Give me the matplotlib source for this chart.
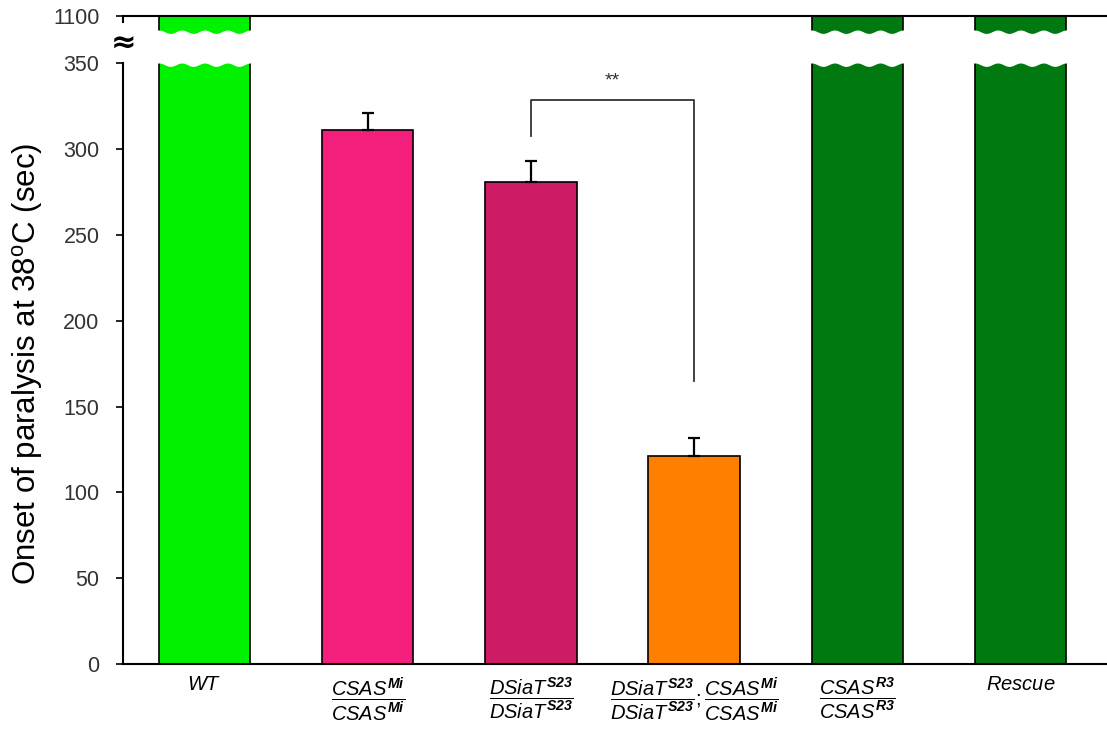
import numpy as np
import matplotlib
matplotlib.use("Agg")
import matplotlib.pyplot as plt
from matplotlib.scale import FuncScale
import matplotlib.transforms as mtransforms

plt.rcParams['font.family'] = ['Liberation Sans', 'DejaVu Sans']
plt.rcParams['mathtext.fontset'] = 'custom'
plt.rcParams['mathtext.rm'] = 'Liberation Sans'
plt.rcParams['mathtext.it'] = 'Liberation Sans:italic'
plt.rcParams['mathtext.bf'] = 'Liberation Sans:italic:bold'

# data
labels = [r'$WT$',
          r'$\dfrac{CSAS^{\mathbf{Mi}}}{CSAS^{\mathbf{Mi}}}$',
          r'$\dfrac{DSiaT^{\mathbf{S23}}}{DSiaT^{\mathbf{S23}}}$',
          r'$\dfrac{DSiaT^{\mathbf{S23}}}{DSiaT^{\mathbf{S23}}};\dfrac{CSAS^{\mathbf{Mi}}}{CSAS^{\mathbf{Mi}}}$',
          r'$\dfrac{CSAS^{\mathbf{R3}}}{CSAS^{\mathbf{R3}}}$',
          r'$Rescue$']
values = [1100, 311, 281, 121, 1100, 1100]
errors = [0, 10, 12, 11, 0, 0]
colors = ['#00f200', '#f41f7d', '#ce1b66', '#ff8000', '#007a10', '#007a10']
broken = [True, False, False, False, True, True]
yticks = [0, 50, 100, 150, 200, 250, 300, 350, 1100]

# bracket between group 2 and group 3
sig_left, sig_right = 2, 3
sig_y, sig_left_low, sig_right_low = 328.5, 308, 165
sig_text = '**'

# broken y scale: 0-350 linear, 350-1100 compressed
BREAK = 350
K = 0.0369


def fwd(y):
    y = np.asarray(y, dtype=float)
    return np.where(y <= BREAK, y, BREAK + (y - BREAK) * K)


def inv(y):
    y = np.asarray(y, dtype=float)
    return np.where(y <= BREAK, y, BREAK + (y - BREAK) / K)


fig = plt.figure(figsize=(11.07, 7.34), dpi=100)
ax = fig.add_axes([123 / 1107, 70 / 734, 984 / 1107, 648 / 734])
ax.set_yscale(FuncScale(ax, (fwd, inv)))

x = np.arange(len(values))
width = 0.56
ax.bar(x, values, width=width, color=colors, edgecolor='black', linewidth=1.2, zorder=2)

# one-sided error bars
for xi, v, e in zip(x, values, errors):
    if e > 0:
        ax.errorbar(xi, v, yerr=[[0], [e]], fmt='none', ecolor='black',
                    elinewidth=1.6, capsize=4, capthick=1.6, zorder=3)

# white break band with wavy edges on tall bars
trans = mtransforms.blended_transform_factory(ax.transData, ax.transAxes)
lo, hi = 601 / 648, 634 / 648
amp = 1.7 / 648
for xi, b in zip(x, broken):
    if not b:
        continue
    xs = np.linspace(xi - width / 2 - 0.01, xi + width / 2 + 0.01, 200)
    ph = (xs - (xi - width / 2)) / (width / 4) * 2 * np.pi
    ax.fill_between(xs, lo - amp + amp * np.cos(ph), hi - amp + amp * np.cos(ph),
                    color='white', transform=trans, zorder=4, linewidth=0)

ax.set_xlim(-0.5, 5.53)
ax.set_ylim(0, 1100)
ax.set_yticks(yticks)
ax.set_yticklabels([str(t) for t in yticks])
ax.yaxis.set_minor_locator(matplotlib.ticker.NullLocator())
ax.set_xticks(x)
ax.set_xticklabels(labels, fontsize=14.5)
ax.tick_params(axis='x', length=0, pad=8)
ax.tick_params(axis='y', direction='out', length=5, width=1.2, labelsize=15.5,
               labelcolor='#333333', pad=12)

for s in ['right', 'left']:
    ax.spines[s].set_visible(False)
for s in ['top', 'bottom']:
    ax.spines[s].set_linewidth(1.5)

# left spine in two pieces with a break symbol
ax.plot([0, 0], [0, lo], transform=ax.transAxes, color='black', lw=1.5,
        clip_on=False, zorder=5)
ax.plot([0, 0], [0.991, 1], transform=ax.transAxes, color='black', lw=1.5,
        clip_on=False, zorder=5)
ax.text(0, 0.957, '≈', transform=ax.transAxes, ha='center', va='center',
        fontsize=22, fontweight='bold', family='DejaVu Sans', zorder=6)

# significance bracket
ax.plot([sig_left, sig_left, sig_right, sig_right],
        [sig_left_low, sig_y, sig_y, sig_right_low],
        color='#333333', lw=1.3, zorder=3)
ax.text((sig_left + sig_right) / 2, 335, sig_text, ha='center', va='bottom',
        fontsize=14, color='#333333')

ax.set_ylabel(r'Onset of paralysis at 38$^{\rm o}$C (sec)', fontsize=22.5)
ax.yaxis.set_label_coords(-0.079, 0.463)

fig.savefig('out.png', dpi=100)
